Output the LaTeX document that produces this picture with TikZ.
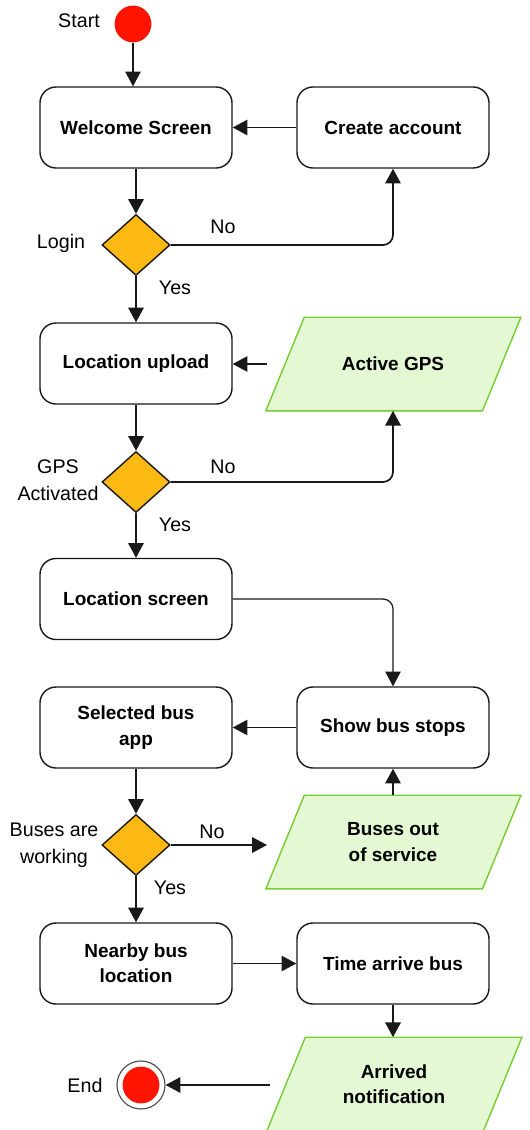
\documentclass[tikz,border=0pt]{standalone}
\usepackage{fontspec}
\setmainfont{Liberation Sans}
\usetikzlibrary{shapes.geometric,arrows.meta,backgrounds}
\definecolor{startred}{RGB}{255,20,0}
\definecolor{askfill}{RGB}{253,185,19}
\definecolor{iofill}{RGB}{227,248,211}
\definecolor{ioline}{RGB}{118,205,50}
\definecolor{inkgray}{RGB}{25,25,25}
\begin{document}
\begin{tikzpicture}[x=0.025cm, y=-0.025cm,
    lbl/.style={align=center, font=\fontsize{14}{19}\selectfont},
    box/.style={draw=inkgray, line width=1pt, rounded corners=0.4cm, minimum width=4.8cm,
      minimum height=2.025cm, align=center, font=\fontsize{13.5}{18}\selectfont\bfseries},
    io/.style={minimum width=5.4cm, minimum height=2.325cm,
      align=center, font=\fontsize{13.5}{18}\selectfont\bfseries},
    ioframe/.style={draw=ioline, fill=iofill, line width=1pt},
    decision/.style={diamond, draw=inkgray, fill=askfill, line width=1pt, inner sep=0pt,
      minimum width=1.7cm, minimum height=1.525cm},
    dot/.style={circle, fill=startred, inner sep=0pt, minimum size=0.92cm},
    endring/.style={circle, draw=gray!60!black, fill=white, line width=0.8pt, inner sep=0pt, minimum size=1.2cm},
    flow/.style={draw=inkgray, line width=1.2pt, -{Triangle[length=10.5pt,width=11pt]}},
    thinflow/.style={flow, line width=0.9pt},
    elbow/.style={rounded corners=0.25cm}]
  \useasboundingbox (0,0) rectangle (529,1130);

  % start and login
  \node[dot] (start) at (133,24) {};
  \node[lbl] (startlbl) at (79,21) {Start};
  \node[box] (welcome) at (136,127.5) {Welcome Screen};
  \node[box] (create) at (393,127.5) {Create account};
  \node[decision] (login) at (136,245) {};
  \node[lbl] (loginlbl) at (61,243) {Login};
  \node[lbl] (no1) at (223,227) {No};
  \node[lbl] (yes1) at (175,288) {Yes};

  % location
  \node[box] (upload) at (136,363.5) {Location upload};
  \node[io] (gps) at (393,364) {Active GPS};
  \coordinate (gpsout) at (267,364);
  \node[decision] (gpsq) at (136,482) {};
  \node[lbl] (gpslbl) at (58,480) {GPS\\Activated};
  \node[lbl] (no2) at (223,467) {No};
  \node[lbl] (yes2) at (175,525) {Yes};
  \node[box] (screen) at (136,599) {Location screen};

  % bus stops
  \node[box] (selected) at (136,727.5) {Selected bus\\app};
  \node[box] (stops) at (393,727.5) {Show bus stops};
  \node[decision] (working) at (136,845) {};
  \node[lbl] (worklbl) at (54,845) {Buses are\\working};
  \node[lbl] (no3) at (212,832) {No};
  \node[lbl] (yes3) at (170,888) {Yes};
  \node[io] (outsvc) at (393,842) {Buses out\\of service};
  \coordinate (outin) at (267,845);

  % arrival
  \node[box] (nearby) at (136,963.5) {Nearby bus\\location};
  \node[box] (arrive) at (393,963.5) {Time arrive bus};
  \node[io] (notify) at (394,1084) {Arrived\\notification};
  \coordinate (notifyout) at (270,1085);
  \node[endring] (endring) at (141,1085) {};
  \node[dot] (endpt) at (141,1085) {};
  \node[lbl] (endlbl) at (85,1085) {End};

  % parallelograms behind the data nodes
  \begin{scope}[on background layer]
    \foreach \n in {gps,outsvc,notify}
      \draw[ioframe] ([xshift=0.49cm]\n.north west) -- ([xshift=0.49cm]\n.north east)
        -- ([xshift=-0.47cm]\n.south east) -- ([xshift=-0.47cm]\n.south west) -- cycle;
  \end{scope}

  % connectors
  \draw[flow] (start) -- (start |- welcome.north);
  \draw[flow] (create) -- (welcome);
  \draw[flow] (welcome) -- (login);
  \draw[flow, elbow] (login.east) -| (create.south);
  \draw[flow] (login) -- (upload);
  \draw[flow] (gpsout) -- (gpsout -| upload.east);
  \draw[flow] (upload) -- (gpsq);
  \draw[flow, elbow] (gpsq.east) -| (gps.south);
  \draw[flow] (gpsq) -- (screen);
  \draw[thinflow, elbow] (screen.east) -| (stops.north);
  \draw[thinflow] (stops) -- (selected);
  \draw[flow] (selected) -- (working);
  \draw[thinflow] (working.east) -- (outin);
  \draw[flow] (outsvc) -- (stops);
  \draw[flow] (working) -- (nearby);
  \draw[thinflow] (nearby) -- (arrive);
  \draw[flow] (arrive) -- (arrive |- notify.north);
  \draw[flow] (notifyout) -- (endring);
\end{tikzpicture}
\end{document}
